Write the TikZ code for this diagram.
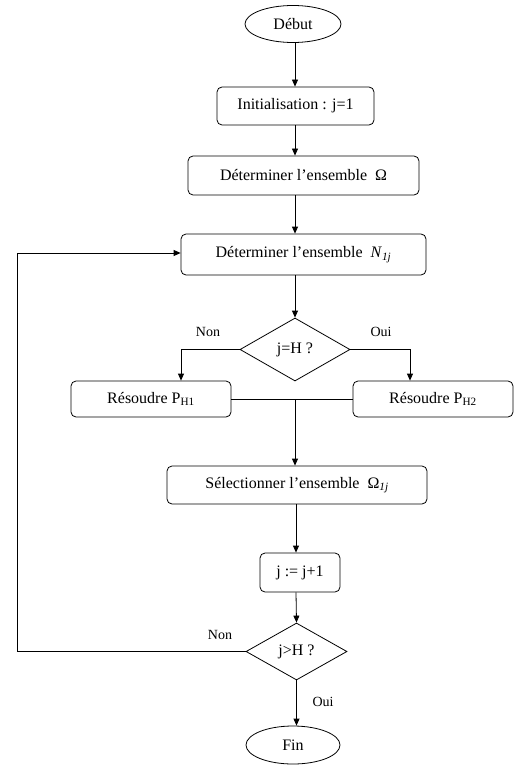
\documentclass[tikz,border=0pt]{standalone}
\usepackage{fontspec}
\setmainfont{Liberation Serif}
\usetikzlibrary{arrows.meta,shapes.geometric}
\begin{document}
\begin{tikzpicture}[x=1pt,y=-1pt,
  line width=0.8pt,
  box/.style={draw,rounded corners=5pt,inner sep=0pt,font=\fontsize{16}{18}\selectfont},
  term/.style={draw,ellipse,inner sep=0pt,font=\fontsize{16}{18}\selectfont},
  dec/.style={draw,diamond,aspect=1.75,inner sep=0pt,font=\fontsize{16}{18}\selectfont},
  lbl/.style={font=\fontsize{14}{16}\selectfont},
  arr/.style={-{Triangle[length=7pt,width=6pt]}}]
\useasboundingbox (0,0) rectangle (523,767);
\node[term,minimum width=96pt,minimum height=37pt] (deb) at (293,24) {Début};
\node[box,minimum width=157pt,minimum height=38pt] (init) at (295.5,106) {Initialisation : j=1};
\node[box,minimum width=231pt,minimum height=39pt] (omega) at (303.5,175.5) {Déterminer l’ensemble\ \ Ω};
\node[box,minimum width=245pt,minimum height=41pt] (nset) at (303.5,254.5) {Déterminer l’ensemble\ \ \textit{N}\textsubscript{\textit{1j}}};
\node[dec,minimum width=110pt,minimum height=63pt] (d1) at (295,349.5) {j=H ?};
\node[box,minimum width=160pt,minimum height=36pt] (p1) at (151,399) {Résoudre P\textsubscript{H1}};
\node[box,minimum width=160pt,minimum height=36pt] (p2) at (433,399) {Résoudre P\textsubscript{H2}};
\node[box,minimum width=260pt,minimum height=38pt] (sel) at (297,485) {Sélectionner l’ensemble\ \ Ω\textsubscript{\textit{1j}}};
\node[box,minimum width=80pt,minimum height=39pt] (inc) at (300,572.5) {j := j+1};
\node[dec,minimum width=101pt,minimum height=57pt] (d2) at (296.5,651.5) {j>H ?};
\node[term,minimum width=94pt,minimum height=38pt] (fin) at (293,745) {Fin};
\coordinate (j) at (295,399);
\coordinate (lb) at (17,651.5);
\coordinate (lt) at (17,253);
\draw[arr] (deb.south -| 295,0) -- (init.north -| 295,0);
\draw[arr] (init.south -| 295,0) -- (omega.north -| 295,0);
\draw[arr] (omega.south -| 295,0) -- (nset.north -| 295,0);
\draw[arr] (nset.south -| 295,0) -- (d1.north);
\draw[arr] (d1.west) -| (p1.north -| 181,0);
\draw[arr] (d1.east) -| (p2.north -| 410,0);
\draw (p1.east) -- (p2.west);
\draw[arr] (j) -- (sel.north -| j);
\draw[arr] (sel.south -| 296,0) -- (inc.north -| 296,0);
\draw[arr] (inc.south -| 296,0) -- (d2.north);
\draw[arr] (d2.south) -- (fin.north -| d2.south);
\draw[arr] (d2.west) -- (lb) -- (lt) -- (nset.west |- lt);
\node[lbl] (non1) at (208,332) {Non};
\node[lbl] (oui1) at (381,332) {Oui};
\node[lbl] (non2) at (220,635) {Non};
\node[lbl] (oui2) at (323,702) {Oui};
\end{tikzpicture}
\end{document}
